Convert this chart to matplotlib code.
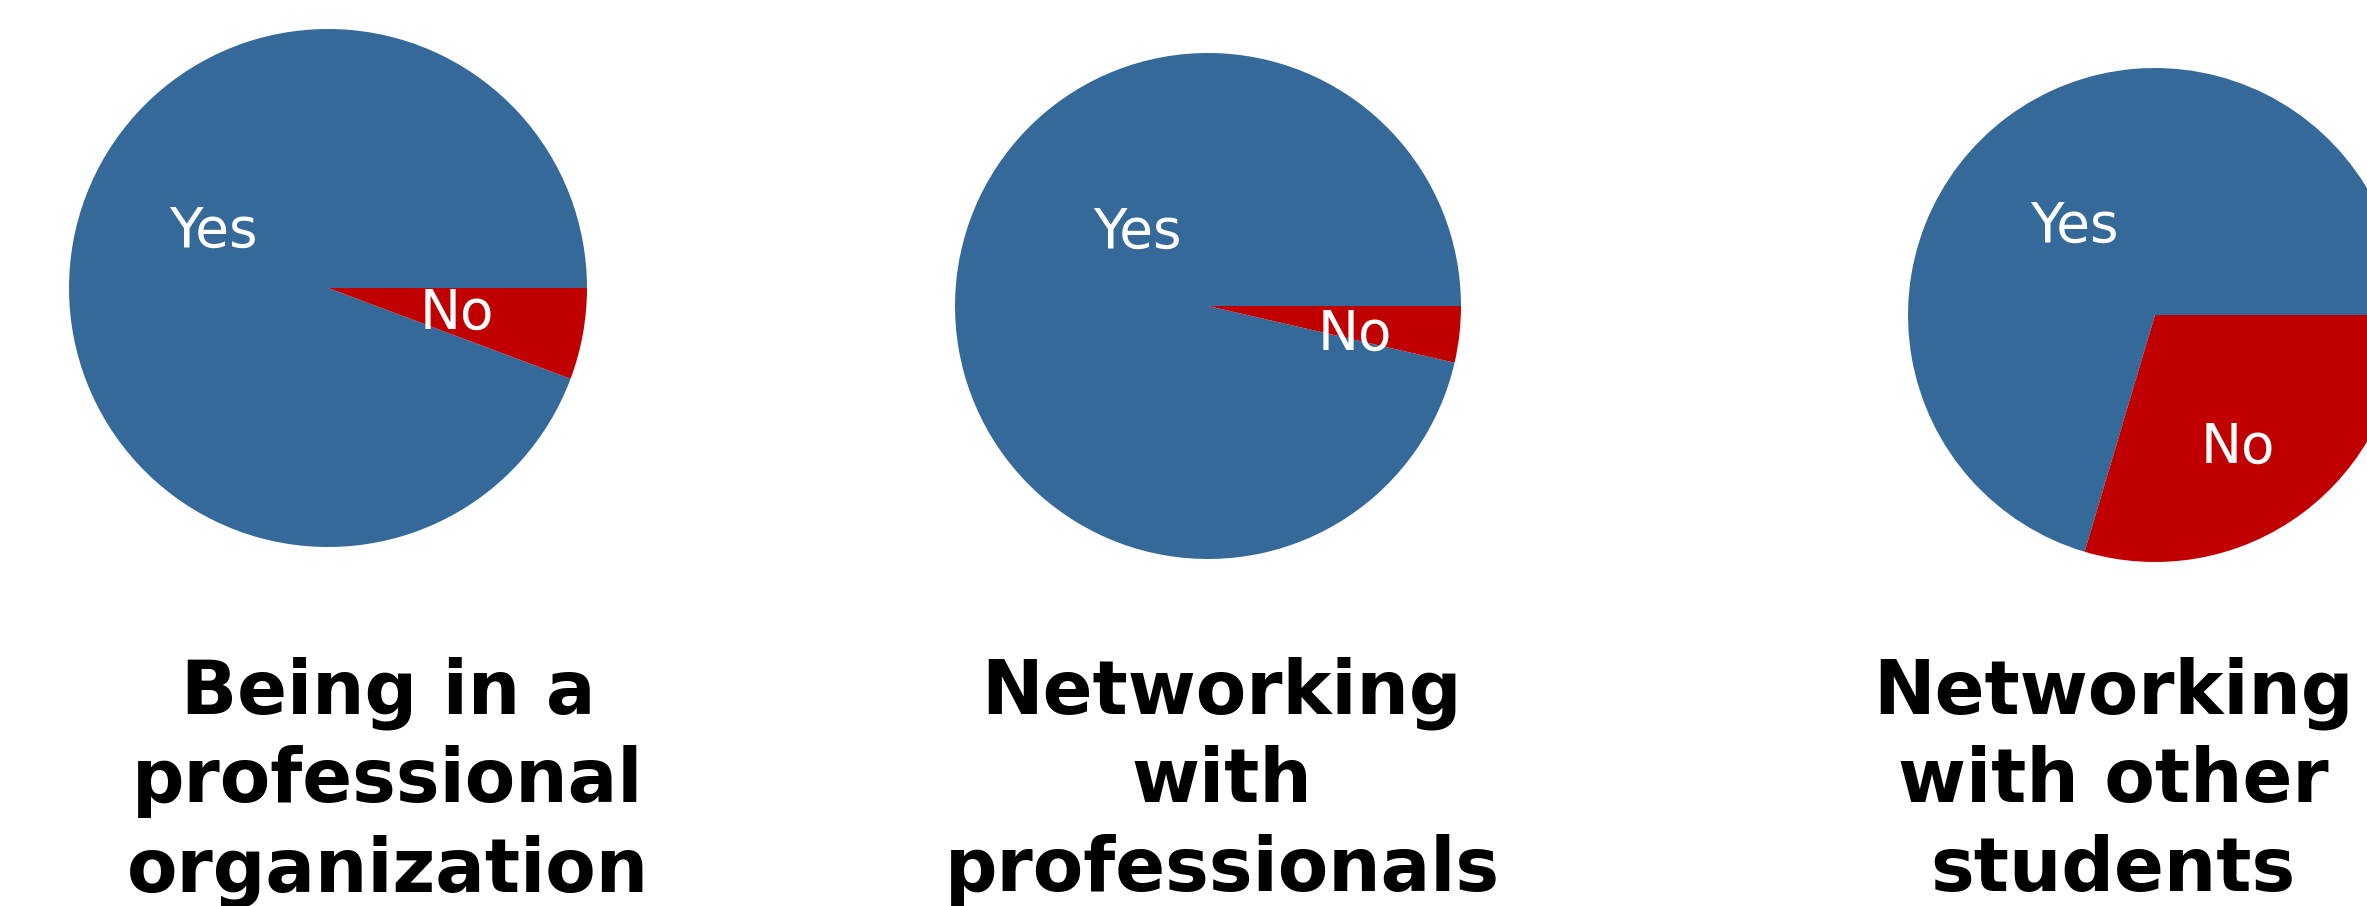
import matplotlib
matplotlib.use('Agg')
import matplotlib.pyplot as plt

# survey answers, percent of respondents
titles = ['Being in a\nprofessional\norganization',
          'Networking\nwith\nprofessionals',
          'Networking\nwith other\nstudents']
labels = ['Yes', 'No']
yes_pct = [94.3, 96.4, 70.4]
no_pct = [5.7, 3.6, 29.6]

colors = ['#35699A', '#C00000']

# layout in pixels (figure is 2367 x 906 at dpi 100)
W, H = 2367, 906
pie_centers = [(328, 288), (1208, 306), (2155, 315)]
pie_radius = [259, 253, 247]
title_x = [388, 1222, 2113]
title_top = 656
# label spots inside each pie, in units of the radius
label_spots = [[(-0.444, 0.216), (0.498, -0.100)],
               [(-0.281, 0.289), (0.581, -0.115)],
               [(-0.328, 0.358), (0.334, -0.536)]]

fig = plt.figure(figsize=(W / 100, H / 100), dpi=100)

for i in range(3):
    cx, cy = pie_centers[i]
    r = pie_radius[i]
    ax = fig.add_axes([(cx - r) / W, (H - cy - r) / H, 2 * r / W, 2 * r / H])
    wedges, texts = ax.pie([yes_pct[i], no_pct[i]], labels=labels, colors=colors,
                           startangle=0, radius=1, labeldistance=0.5,
                           textprops={'color': 'white', 'fontsize': 39.5})
    for t, (lx, ly) in zip(texts, label_spots[i]):
        t.set_position((lx, ly))
        t.set_ha('center')
        t.set_va('center')
    ax.set_xlim(-1, 1)
    ax.set_ylim(-1, 1)
    ax.set_aspect('equal')
    ax.axis('off')

    # titles run off the bottom edge like in the original
    fig.text(title_x[i] / W, 1 - title_top / H, titles[i], ha='center', va='top',
             fontsize=53, fontweight='bold', linespacing=1.28)

fig.savefig('out.png', dpi=100)
